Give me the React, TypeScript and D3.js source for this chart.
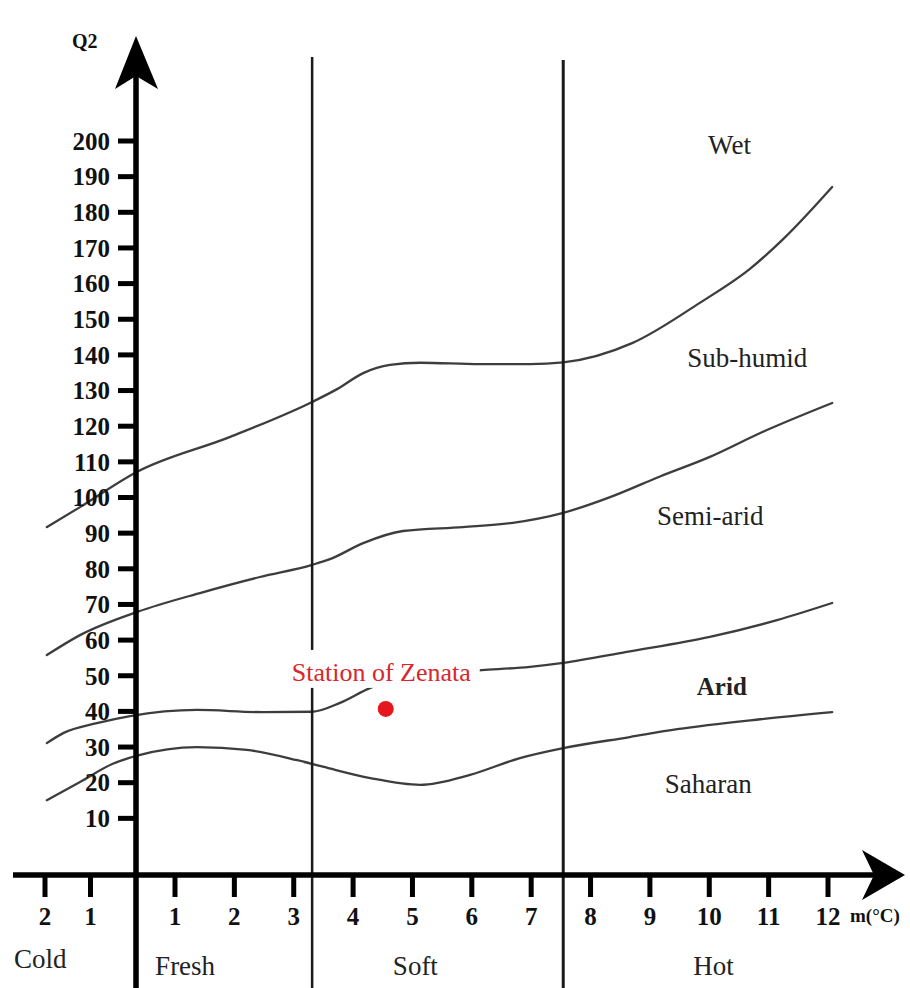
import React from 'react';
import * as d3 from 'd3';

const W = 910;
const H = 988;

// Axis ticks
const yTickValues = [10, 20, 30, 40, 50, 60, 70, 80, 90, 100, 110, 120, 130, 140, 150, 160, 170, 180, 190, 200];
const xTickValues = [-2, -1, 1, 2, 3, 4, 5, 6, 7, 8, 9, 10, 11, 12];

// Thermal zone boundaries (m, °C)
const zoneBoundaries = [3.31, 7.54];
const zoneNames = ['Cold', 'Fresh', 'Soft', 'Hot'];
const zoneAnchorsM = [-2.68, 0.49, 4.67, 9.73];

// Bioclimatic boundary curves [m, Q2]
const wetBoundary: [number, number][] = [
  [-1.96, 91.7], [-1.23, 97.3], [0.03, 107.2], [1.93, 117.0], [3.31, 126.8], [3.73, 130.4],
  [4.17, 134.9], [4.62, 137.2], [5.13, 137.8], [6.14, 137.4], [6.98, 137.4], [7.54, 137.9],
  [8.7, 143.3], [9.84, 154.6], [10.69, 164.2], [11.24, 172.4], [12.07, 187.1],
];
const subHumidBoundary: [number, number][] = [
  [-1.96, 55.8], [-1.23, 61.4], [0.03, 67.9], [1.42, 73.2], [2.43, 77.7], [3.31, 81.1],
  [3.61, 82.7], [4.17, 87.2], [4.84, 90.6], [5.85, 91.7], [6.69, 92.9], [7.54, 95.7],
  [8.33, 100.1], [9.17, 105.9], [10.01, 111.4], [10.86, 118.1], [12.07, 126.5],
];
const semiAridBoundary: [number, number][] = [
  [-1.96, 31.1], [-1.6, 33.9], [-0.86, 36.7], [-0.13, 38.7], [1.37, 40.4], [2.48, 39.8],
  [3.31, 39.9], [3.78, 42.4], [4.29, 46.6], [4.79, 49.4], [5.46, 50.8], [6.17, 51.6],
  [6.98, 52.5], [7.54, 53.6], [8.61, 56.7], [10.01, 60.9], [11.14, 65.6], [12.07, 70.4],
];
const aridBoundary: [number, number][] = [
  [-1.96, 15.1], [-1.23, 20.2], [-0.51, 25.3], [0.03, 27.6], [1.37, 30.0], [2.21, 29.2],
  [3.06, 26.3], [3.49, 24.5], [4.29, 21.3], [5.13, 19.4], [5.97, 22.2], [6.81, 26.9],
  [7.54, 29.7], [8.66, 32.8], [9.46, 35.0], [10.86, 37.8], [12.07, 39.8],
];
const curves = [wetBoundary, subHumidBoundary, semiAridBoundary, aridBoundary];

// Bioclimatic stage labels
const stageNames = ['Wet', 'Sub-humid', 'Semi-arid', 'Arid', 'Saharan'];
const stageAnchorsM = [9.98, 9.63, 9.12, 9.79, 9.25];
const stageAnchorsQ = [196.4, 136.6, 92.3, 44.6, 17.1];
const stageBold = [false, false, false, true, false];

// Station
const stationName = 'Station of Zenata';
const stationM = 4.55;
const stationQ = 40.7;

const SERIF = '"Liberation Serif", "Times New Roman", Times, serif';

export default function App() {
  const x = d3.scaleLinear().domain([-2, 0, 1, 12]).range([45, 136, 175, 828]);
  const y = d3.scaleLinear().domain([0, 200]).range([854, 141]);

  const axisY = 875;
  const x0 = x(0);

  const line = d3
    .line<[number, number]>()
    .x((d) => x(d[0]))
    .y((d) => y(d[1]))
    .curve(d3.curveMonotoneX);

  const sx = x(stationM);
  const sy = y(stationQ);

  return (
    <div style={{ position: 'absolute', left: 0, top: 0 }}>
      <svg width={W} height={H} viewBox={`0 0 ${W} ${H}`} style={{ display: 'block', background: '#fff' }}>
        <rect x={0} y={0} width={W} height={H} fill="#fff" />

        {/* boundary curves */}
        {curves.map((c, i) => (
          <path key={i} d={line(c) || ''} fill="none" stroke="#3d3d3d" strokeWidth={2.3} strokeLinecap="round" />
        ))}

        {/* thermal zone vertical lines */}
        {zoneBoundaries.map((m, i) => (
          <line key={i} x1={x(m)} x2={x(m)} y1={i === 0 ? 57 : 60} y2={H} stroke="#1a1a1a" strokeWidth={i === 0 ? 2.5 : 3} />
        ))}

        {/* station label with white background */}
        <rect x={sx - 99} y={sy - 59} width={193} height={38} fill="#fff" />
        <text x={sx - 94} y={sy - 28} fontFamily={SERIF} fontSize={26} fill="#d9252b">
          {stationName}
        </text>
        <circle cx={sx} cy={sy} r={8} fill="#e5161d" />

        {/* Y axis */}
        <line x1={x0} x2={x0} y1={70} y2={H} stroke="#000" strokeWidth={5.5} />
        <path d={`M${x0},36 L${x0 + 22},89 L${x0},76 L${x0 - 21},89 Z`} fill="#000" />
        {yTickValues.map((v) => (
          <g key={v}>
            <rect x={x0 - 18} y={y(v) - 2.5} width={18} height={5} fill="#000" />
            <text
              x={110}
              y={y(v)}
              dy="0.35em"
              textAnchor="end"
              fontFamily={SERIF}
              fontWeight="bold"
              fontSize={25}
              fill="#111"
            >
              {v}
            </text>
          </g>
        ))}
        <text x={72} y={48} fontFamily={SERIF} fontWeight="bold" fontSize={20} fill="#111">
          Q2
        </text>

        {/* X axis */}
        <line x1={13} x2={880} y1={axisY} y2={axisY} stroke="#000" strokeWidth={5.5} />
        <path d={`M905,${axisY} L862,${axisY - 25} L874,${axisY} L862,${axisY + 25} Z`} fill="#000" />
        {xTickValues.map((v) => (
          <g key={v}>
            <rect x={x(v) - 2.5} y={axisY} width={5} height={22} fill="#000" />
            <text
              x={x(v)}
              y={925}
              textAnchor="middle"
              fontFamily={SERIF}
              fontWeight="bold"
              fontSize={25}
              fill="#111"
            >
              {Math.abs(v)}
            </text>
          </g>
        ))}
        <text x={850} y={922} fontFamily={SERIF} fontWeight="bold" fontSize={19} fill="#111">
          m(°C)
        </text>

        {/* thermal zone names */}
        {zoneNames.map((n, i) => (
          <text key={n} x={x(zoneAnchorsM[i])} y={i === 0 ? 968 : 975} fontFamily={SERIF} fontSize={27} fill="#222">
            {n}
          </text>
        ))}

        {/* stage names */}
        {stageNames.map((n, i) => (
          <text
            key={n}
            x={x(stageAnchorsM[i])}
            y={y(stageAnchorsQ[i])}
            fontFamily={SERIF}
            fontSize={stageBold[i] ? 25 : 27}
            fontWeight={stageBold[i] ? 'bold' : 'normal'}
            fill="#222"
          >
            {n}
          </text>
        ))}
      </svg>
    </div>
  );
}
